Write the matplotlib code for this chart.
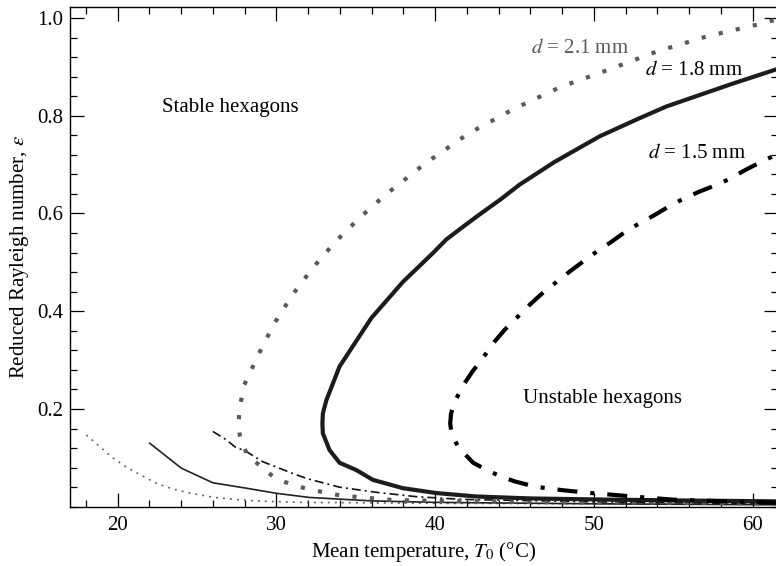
import matplotlib
matplotlib.use("Agg")
import matplotlib.pyplot as plt
from matplotlib.ticker import MultipleLocator

plt.rcParams['font.family'] = ['Liberation Serif', 'DejaVu Serif']
plt.rcParams['mathtext.fontset'] = 'stix'

# d = 2.1 mm, thick grey dotted (loop: lower branch from the right, then upper branch)
x21 = [61.5, 55.0, 50.0, 45.0, 41.0, 38.5, 37.24, 36.15, 35.1, 34.03, 32.93, 31.89, 30.83,
       29.89, 29.05, 28.21, 27.8, 27.7, 27.62, 27.69, 27.96, 28.88, 29.85, 31.0, 32.3, 33.71,
       35.24, 36.86, 39.4, 42.07, 44.9, 47.84, 50.99, 53.93, 57.08, 60.23, 61.6]
y21 = [0.007, 0.008, 0.009, 0.010, 0.012, 0.013, 0.014, 0.017, 0.020, 0.023, 0.030, 0.037, 0.047,
       0.059, 0.082, 0.104, 0.133, 0.145, 0.172, 0.202, 0.248, 0.312, 0.374, 0.433, 0.489, 0.542,
       0.591, 0.638, 0.703, 0.763, 0.813, 0.858, 0.895, 0.931, 0.962, 0.986, 0.998]

# d = 1.8 mm, thick solid
x18 = [61.6, 55.0, 50.0, 46.0, 42.6, 40.08, 37.97, 36.08, 35.04, 33.98, 33.35, 32.93, 32.9,
       32.93, 33.15, 33.98, 35.98, 37.97, 39.86, 40.71, 41.97, 42.8, 44.17, 45.32, 47.5, 50.37,
       52.67, 54.57, 58.77, 61.6]
y18 = [0.011, 0.013, 0.015, 0.017, 0.021, 0.028, 0.038, 0.055, 0.075, 0.090, 0.116, 0.150, 0.170,
       0.191, 0.218, 0.287, 0.386, 0.460, 0.519, 0.547, 0.578, 0.598, 0.630, 0.659, 0.705, 0.758,
       0.792, 0.819, 0.866, 0.896]

# d = 1.5 mm, thick dash-dot
x15 = [61.6, 58.3, 55.0, 52.8, 51.0, 49.5, 48.0, 46.3, 45.0, 44.0, 43.2, 42.4, 41.5, 41.05,
       40.95, 41.0, 41.23, 41.86, 42.38, 43.0, 43.75, 44.38, 45.0, 45.95, 46.69, 47.42, 48.47,
       49.21, 50.05, 51.1, 51.83, 52.67, 53.83, 54.66, 55.51, 56.66, 57.61, 58.44, 59.6, 60.5, 61.6]
y15 = [0.008, 0.011, 0.0145, 0.020, 0.025, 0.029, 0.034, 0.041, 0.052, 0.064, 0.076, 0.090, 0.120,
       0.147, 0.170, 0.190, 0.215, 0.253, 0.278, 0.304, 0.338, 0.362, 0.382, 0.413, 0.435, 0.454,
       0.481, 0.499, 0.519, 0.542, 0.559, 0.576, 0.597, 0.613, 0.628, 0.645, 0.657, 0.669, 0.690,
       0.705, 0.722]

# thin dash-dot
xtdd = [26.0, 26.85, 27.37, 28.1, 29.15, 31.04, 31.89, 33.98, 36.3, 38.82, 41.75, 50.0, 61.6]
ytdd = [0.154, 0.137, 0.123, 0.113, 0.092, 0.068, 0.058, 0.040, 0.0295, 0.0206, 0.015, 0.010, 0.006]

# thin solid
xts = [22.02, 24.01, 26.0, 28.1, 30.0, 32.09, 36.0, 40.0, 50.0, 61.6]
yts = [0.130, 0.079, 0.049, 0.038, 0.0275, 0.019, 0.012, 0.009, 0.006, 0.004]

# thin dotted
xtd = [18.03, 18.87, 19.7, 20.55, 21.5, 22.44, 23.5, 24.54, 26.1, 27.7, 29.37, 31.5, 40.0, 61.6]
ytd = [0.147, 0.123, 0.100, 0.081, 0.064, 0.048, 0.036, 0.028, 0.019, 0.014, 0.011, 0.009, 0.007, 0.005]

fig = plt.figure(figsize=(7.76, 5.66), dpi=100)
ax = fig.add_axes([70 / 776, 59.25 / 566, 708 / 776, 499.75 / 566])

ax.plot(xtd, ytd, color='#666666', lw=1.2, linestyle=(0, (1.2, 3.0)))
ax.plot(xts, yts, color='#222222', lw=1.2)
ax.plot(xtdd, ytdd, color='#111111', lw=1.2, linestyle=(0, (5.4, 2.4, 1.2, 2.4)))
ax.plot(x21, y21, color='#5a5a5a', lw=3, linestyle=(0, (1, 3.2)))
ax.plot(x18, y18, color='#1c1c1c', lw=3)
ax.plot(x15, y15, color='black', lw=3, linestyle=(0, (4.8, 3.1, 1, 3.1)))

fs = 15
ax.text(22.77, 0.816, 'Stable hexagons', fontsize=fs, va='center')
ax.text(45.53, 0.222, 'Unstable hexagons', fontsize=fs, va='center')
ax.text(46.06, 0.938, '$d$ = 2.1 mm', fontsize=fs, va='center', color='#5a5a5a')
ax.text(53.2, 0.892, '$d$ = 1.8 mm', fontsize=fs, va='center')
ax.text(53.4, 0.723, '$d$ = 1.5 mm', fontsize=fs, va='center')

ax.set_xlim(17.0, 61.6)
ax.set_ylim(0.0, 1.0225)
ax.xaxis.set_major_locator(MultipleLocator(10))
ax.xaxis.set_minor_locator(MultipleLocator(2))
ax.set_yticks([0.2, 0.4, 0.6, 0.8, 1.0])
ax.yaxis.set_minor_locator(MultipleLocator(0.04))
ax.tick_params(which='both', direction='in', top=True, right=True, labelsize=fs, width=0.9)
ax.tick_params(which='major', length=10)
ax.tick_params(which='minor', length=5)
ax.tick_params(axis='x', pad=7)
ax.tick_params(axis='y', pad=5)
for s in ax.spines.values():
    s.set_linewidth(1.0)

ax.set_xlabel('Mean temperature, $T_0$ (°C)', fontsize=fs, labelpad=3)
ax.set_ylabel('Reduced Rayleigh number, $\\epsilon$', fontsize=fs, labelpad=4.5)

fig.savefig('out.png', dpi=100)
